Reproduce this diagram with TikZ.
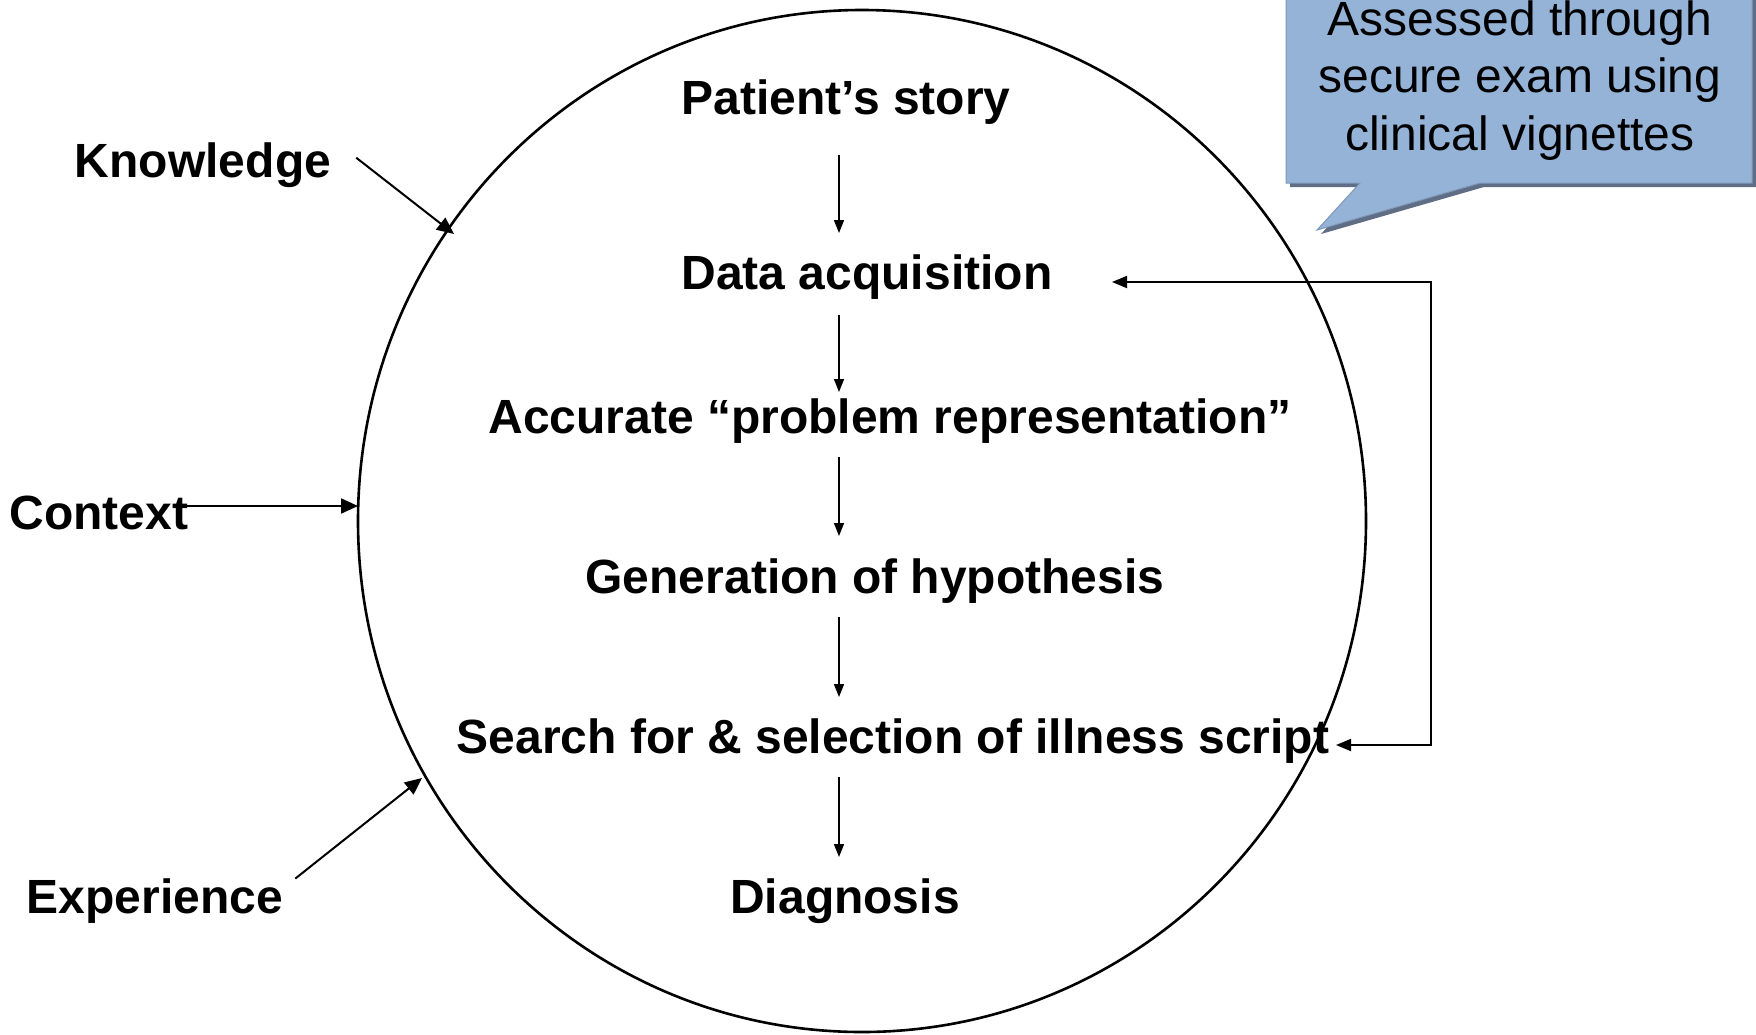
\documentclass[tikz,border=0pt]{standalone}
\usepackage{fontspec}
\setmainfont{Liberation Sans}
\usetikzlibrary{arrows.meta,calc}
\definecolor{calloutfill}{HTML}{95B3D7}
\definecolor{calloutedge}{HTML}{7F97B8}
\definecolor{calloutshadow}{HTML}{5F6E84}
\begin{document}
\begin{tikzpicture}[x=1pt,y=-1pt,
  lbl/.style={font=\fontsize{48}{56}\selectfont\bfseries, inner sep=0pt, anchor=base},
  note/.style={font=\fontsize{48}{57}\selectfont, inner sep=0pt, anchor=base},
  flow/.style={line width=1.6pt, -{Triangle[length=13pt,width=10pt]}},
  feed/.style={line width=1.8pt, {Triangle[length=15pt,width=12pt]}-{Triangle[length=15pt,width=12pt]}},
  infl/.style={line width=2pt, -{Triangle[length=17pt,width=15pt]}}]
\useasboundingbox (0,0) rectangle (1756,1034);
\fill[white] (0,0) rectangle (1756,1034);

% the reasoning circle
\draw[line width=2.6pt] (862,521) ellipse [x radius=504, y radius=511];

% steps of the reasoning process
\node[lbl] (story)  at (846,114) {Patient’s story};
\node[lbl] (data)   at (867,289) {Data acquisition};
\node[lbl] (repr)   at (890,433) {Accurate “problem representation”};
\node[lbl] (hypo)   at (875,593) {Generation of hypothesis};
\node[lbl] (search) at (893,753) {Search for \& selection of illness script};
\node[lbl] (diag)   at (845,913) {Diagnosis};

% outside influences
\node[lbl] (know) at (203,177) {Knowledge};
\node[lbl] (ctx)  at (99,529)  {Context};
\node[lbl] (exp)  at (155,913) {Experience};

% step-to-step arrows
\coordinate (ax) at (839,0);
\draw[flow] (ax |- 0,155) -- (ax |- 0,233);
\draw[flow] (ax |- 0,315) -- (ax |- 0,392);
\draw[flow] (ax |- 0,457) -- (ax |- 0,536);
\draw[flow] (ax |- 0,617) -- (ax |- 0,697);
\draw[flow] (ax |- 0,777) -- (ax |- 0,857);

% influences entering the circle
\coordinate (kin)  at (454,234);
\coordinate (cin)  at (358,506);
\coordinate (ein)  at (422,778);
\draw[infl] ([shift={(25,-7)}]know.east) -- (kin);
\draw[infl] (179,506) -- (cin);
\draw[infl] ([shift={(12,-22)}]exp.east) -- (ein);

% feedback loop from script selection back to data acquisition
\coordinate (fbtop) at (1112,282);
\coordinate (fbbot) at (1336,745);
\coordinate (fbx)   at (1431,0);
\draw[feed] (fbtop) -- (fbtop -| fbx) -- (fbbot -| fbx) -- (fbbot);

% callout with assessment note
\fill[calloutshadow]
  (1290,-10) -- (1756,-10) -- (1756,187) -- (1484,187) -- (1321,234)
  -- (1364,187) -- (1290,187) -- cycle;
\filldraw[fill=calloutfill, draw=calloutedge, line width=1pt]
  (1286,-10) -- (1752,-10) -- (1752,183) -- (1480,183) -- (1317,230)
  -- (1360,183) -- (1286,183) -- cycle;
\node[note] (n1) at (1520,35)  {Assessed through};
\node[note] (n2) at (1520,92)  {secure exam using};
\node[note] (n3) at (1520,150) {clinical vignettes};
\end{tikzpicture}
\end{document}
